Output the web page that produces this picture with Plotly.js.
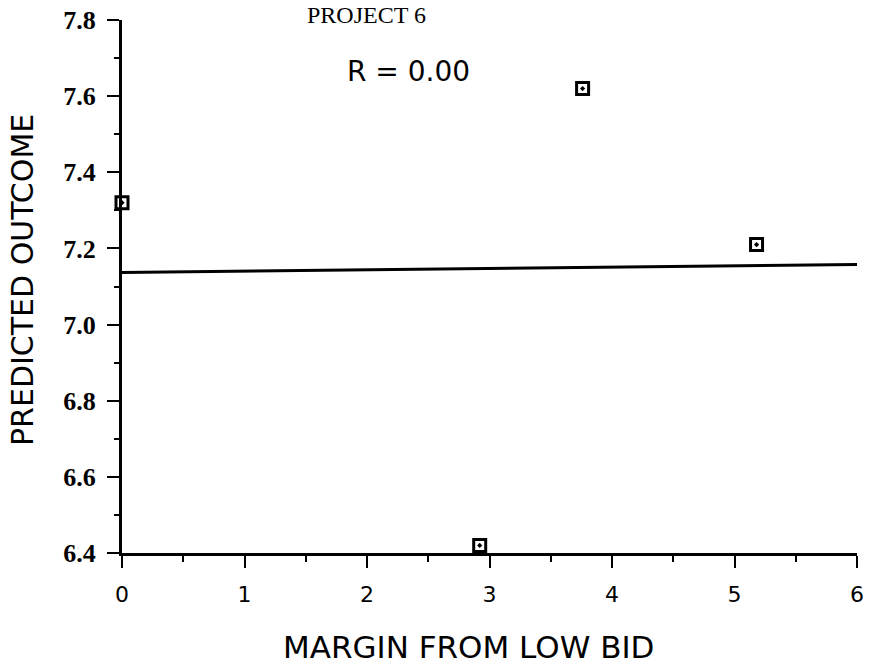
<!DOCTYPE html>
<html><head><meta charset="utf-8">
<script src="https://cdn.plot.ly/plotly-3.0.1.min.js"></script>
<style>html,body{margin:0;padding:0;background:#fff}</style>
</head><body>
<div id="chart" style="width:869px;height:669px"></div>
<script>
// Data
const marginFromLowBid = [0.0, 3.76, 5.18, 2.92];
const predictedOutcome = [7.32, 7.62, 7.21, 6.42];
const fitX = [0, 6];
const fitY = [7.137, 7.158];
const xTickVals = [0, 1, 2, 3, 4, 5, 6];
const xTickText = ['0', '1', '2', '3', '4', '5', '6'];
const yTickVals = [6.4, 6.6, 6.8, 7.0, 7.2, 7.4, 7.6, 7.8];
const yTickText = ['6.4', '6.6', '6.8', '7.0', '7.2', '7.4', '7.6', '7.8'];
const chartTitle = 'PROJECT 6';
const rLabel = 'R = 0.00';
const xTitle = 'MARGIN FROM LOW BID';
const yTitle = 'PREDICTED OUTCOME';

const sans = 'DejaVu Sans, sans-serif';
const serif = 'Liberation Serif, Times New Roman, serif';

// plot area geometry (pixels) used to place the free-floating texts
const L = 122, T = 20, W = 735, H = 533;
const px = (x) => (x - L) / W;
const py = (y) => (T + H - y) / H;

const traces = [
  {x: fitX, y: fitY, mode: 'lines', line: {color: '#000', width: 3}, hoverinfo: 'skip', showlegend: false, cliponaxis: false},
  {x: marginFromLowBid, y: predictedOutcome, mode: 'markers', cliponaxis: false, showlegend: false,
   marker: {symbol: 'square-open-dot', size: 12, color: '#000', line: {color: '#000', width: 3}}}
];

const layout = {
  width: 869, height: 669,
  margin: {l: L, r: 869 - L - W, t: T, b: 669 - T - H},
  paper_bgcolor: '#fff', plot_bgcolor: '#fff',
  showlegend: false,
  xaxis: {
    range: [0, 6], tickvals: xTickVals, ticktext: xTickText,
    showgrid: false, zeroline: false, showline: true, linecolor: '#000', linewidth: 3,
    ticks: 'outside', ticklen: 12, tickwidth: 2, tickcolor: '#000',
    minor: {dtick: 0.5, tick0: 0, ticks: 'outside', ticklen: 6, tickwidth: 2, tickcolor: '#000', showgrid: false},
    tickfont: {family: sans, size: 22, color: '#000'},
    ticklabelstandoff: 8
  },
  yaxis: {
    range: [6.4, 7.8], tickvals: yTickVals, ticktext: yTickText,
    showgrid: false, zeroline: false, showline: true, linecolor: '#000', linewidth: 3,
    ticks: 'outside', ticklen: 12, tickwidth: 2, tickcolor: '#000',
    minor: {dtick: 0.1, tick0: 6.4, ticks: 'outside', ticklen: 5, tickwidth: 2, tickcolor: '#000', showgrid: false},
    tickfont: {family: serif, size: 26, color: '#000', weight: 'bold'},
    ticklabelstandoff: 6
  },
  annotations: [
    {text: rLabel, xref: 'paper', yref: 'paper', x: px(408), y: py(72),
     xanchor: 'center', yanchor: 'middle', showarrow: false, font: {family: sans, size: 28, color: '#000'}},
    {text: chartTitle, xref: 'paper', yref: 'paper', x: px(366), y: py(0),
     xanchor: 'center', yanchor: 'top', showarrow: false, font: {family: serif, size: 24, color: '#000'}},
    {text: xTitle, xref: 'paper', yref: 'paper', x: px(468), y: py(647),
     xanchor: 'center', yanchor: 'middle', showarrow: false, font: {family: sans, size: 31, color: '#000'}},
    {text: yTitle, xref: 'paper', yref: 'paper', x: px(22), y: py(280), textangle: -90,
     xanchor: 'center', yanchor: 'middle', showarrow: false, font: {family: sans, size: 30, color: '#000'}}
  ]
};

Plotly.newPlot('chart', traces, layout, {displayModeBar: false, staticPlot: true});
</script>
</body></html>
